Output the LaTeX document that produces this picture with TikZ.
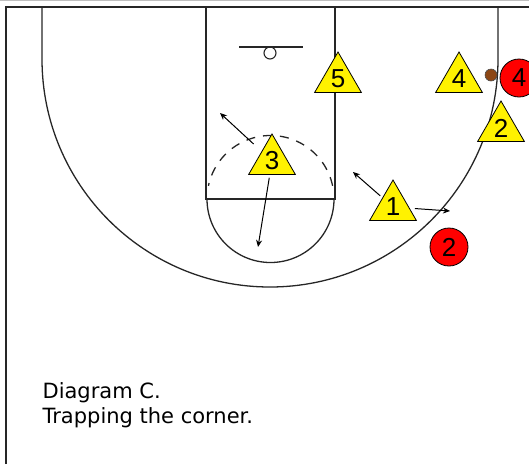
\documentclass[tikz,border=0pt]{standalone}
\usepackage{fontspec}
\setmainfont{DejaVu Sans}
\newfontfamily\digitfont{Liberation Sans}
\usetikzlibrary{shapes.geometric,arrows.meta}
\definecolor{ballbrown}{RGB}{140,70,20}

\begin{document}
\begin{tikzpicture}[x=1pt,y=-1pt,>={Stealth[length=7pt,width=6pt]}, line width=1.2pt]
    \tikzstyle{court} = [draw=black!85, line width=1.3pt]
    \tikzstyle{offense} = [regular polygon, regular polygon sides=3, draw, fill=yellow, minimum size=54pt, inner sep=0pt, line width=0.8pt]
    \tikzstyle{defense} = [circle, draw, fill=red, minimum size=38pt, inner sep=0pt, line width=0.8pt, font=\digitfont\fontsize{26}{26}\selectfont]
    \tikzstyle{num} = [font=\digitfont\fontsize{26}{26}\selectfont, inner sep=0pt]
    \tikzstyle{move} = [->, line width=1pt]

    \useasboundingbox (0,0) rectangle (529,464);

    % Frame
    \draw[gray!50, line width=1pt] (0,0.5) -- (529,0.5);
    \draw[court, line width=1.8pt] (6,464) -- (6,7) -- (529,7);

    % Three point line
    \draw[court] (42,7) -- (42,59) arc[start angle=180, end angle=360, radius=228pt] -- (498,7);

    % Lane and free throw circle
    \coordinate (ft) at (270.5,199);
    \draw[court] (206,7) -- (206,199) -- (335,199) -- (335,7);
    \draw[court] (207,199) arc[start angle=180, end angle=360, radius=63.5pt];
    \draw[court, dash pattern=on 9pt off 8pt] (ft) ++(12:63.5pt) arc[start angle=12, end angle=168, radius=63.5pt];

    % Basket
    \draw[court] (239,47) -- (303,47);
    \node[circle, draw=black!85, line width=1.1pt, minimum size=12pt, inner sep=0pt] (rim) at (270,53) {};

    % Offense
    \node[offense, label={[num]center:5}] (o5) at (338,79) {};
    \node[offense, label={[num]center:4}] (o4) at (459,79) {};
    \node[offense, label={[num]center:2}] (o2) at (501,128) {};
    \node[offense, label={[num]center:3}] (o3) at (272,161) {};
    \node[offense, label={[num]center:1}] (o1) at (393,207) {};

    % Defense and ball
    \node[defense] (d4) at (519,78) {4};
    \node[defense] (d2) at (449,247) {2};
    \node[circle, draw=black!70, fill=ballbrown, minimum size=12pt, inner sep=0pt, line width=0.6pt] (ball) at (491,75) {};

    % Cuts
    \coordinate (c3up) at (220,113);
    \coordinate (c3down) at (258,247);
    \coordinate (c1up) at (353,172);
    \coordinate (c1right) at (450,211);
    \draw[move, shorten <=25pt] (o3.center) -- (c3up);
    \draw[move, shorten <=17pt] (o3.center) -- (c3down);
    \draw[move, shorten <=17pt] (o1.center) -- (c1up);
    \draw[move, shorten <=22pt] (o1.center) -- (c1right);

    % Caption
    \node[anchor=base west, font=\fontsize{21}{21}\selectfont, inner sep=0pt] (title) at (42,398) {Diagram C.};
    \node[anchor=base west, font=\fontsize{21}{21}\selectfont, inner sep=0pt] (caption) at (42,423) {Trapping the corner.};
\end{tikzpicture}
\end{document}
